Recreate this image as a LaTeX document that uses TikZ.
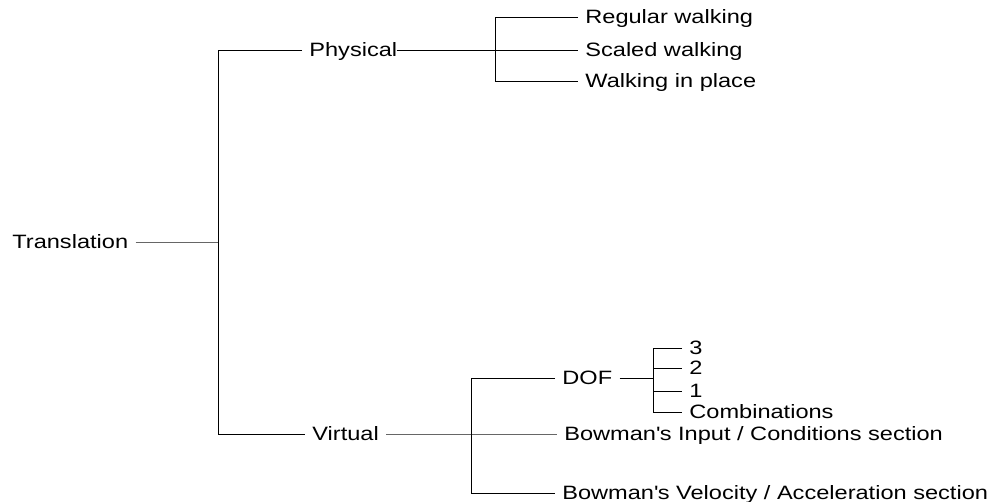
\documentclass[tikz,border=0pt]{standalone}
\usepackage{fontspec}
\setmainfont{Liberation Sans}[FakeStretch=1.22]
\usetikzlibrary{positioning}
\usetikzlibrary{calc}

\begin{document}
\begin{tikzpicture}[
    x=0.02cm, y=-0.02cm,   % one unit per pixel, y going down
    ]
% -------------------------------------------------
\tikzset{
  base/.style={anchor=west, inner xsep=4pt, inner ysep=0pt, text height=8pt, text depth=0.5pt,
               font=\fontsize{11}{13}\selectfont},
  item/.style={base},
  line/.style={draw, line width=0.5pt},
  dim/.style={line, draw=black!60}
}
\useasboundingbox (0,0) rectangle (998,502);
% -------------------------------------------------
% Placing the nodes

\node [item] (trans) at (5,242) {Translation};
\node [item] (phys) at (302,50) {Physical};
\node [item] (virt) at (305,434) {Virtual};

\node [item] (reg) at (578,17) {Regular walking};
\node [item] (scl) at (578,50) {Scaled walking};
\node [item] (wip) at (578,81) {Walking in place};

\node [item] (dof) at (555,378) {DOF};
\node [item] (inp) at (557,434) {Bowman\textquotesingle s Input / Conditions section};
\node [item] (vel) at (555,493) {Bowman\textquotesingle s Velocity / Acceleration section};

\node [item] (d3) at (682,348) {3};
\node [item] (d2) at (682,368) {2};
\node [item] (d1) at (682,391) {1};
\node [item] (comb) at (682,412) {Combinations};

\coordinate (rt) at (218,242);
\coordinate (pj) at (495,50);
\coordinate (vj) at (471,434);
\coordinate (dj) at (653,378);

% -------------------------------------------------
% Branches

\path [dim] (trans.east) -- (rt);
\path [line] (phys.west) -- (rt |- phys.west) -- (rt |- virt.west) -- (virt.west);

\path [line] ($(phys.east)+(-8,0)$) -- (pj);
\path [line] (reg.west) -- (pj |- reg.west) -- (pj |- wip.west) -- (wip.west);
\path [line] (pj) -- (scl.west);

\path [dim] (virt.east) -- (inp.west);
\path [line] (dof.west) -- (vj |- dof.west) -- (vj |- vel.west) -- (vel.west);

\path [line] (dof.east) -- (dj);
\path [line] (d3.west) -- (dj |- d3.west) -- (dj |- comb.west) -- (comb.west);
\foreach \n in {d2,d1}
  \path [line] (dj |- \n.west) -- (\n.west);

\end{tikzpicture}
\end{document}
